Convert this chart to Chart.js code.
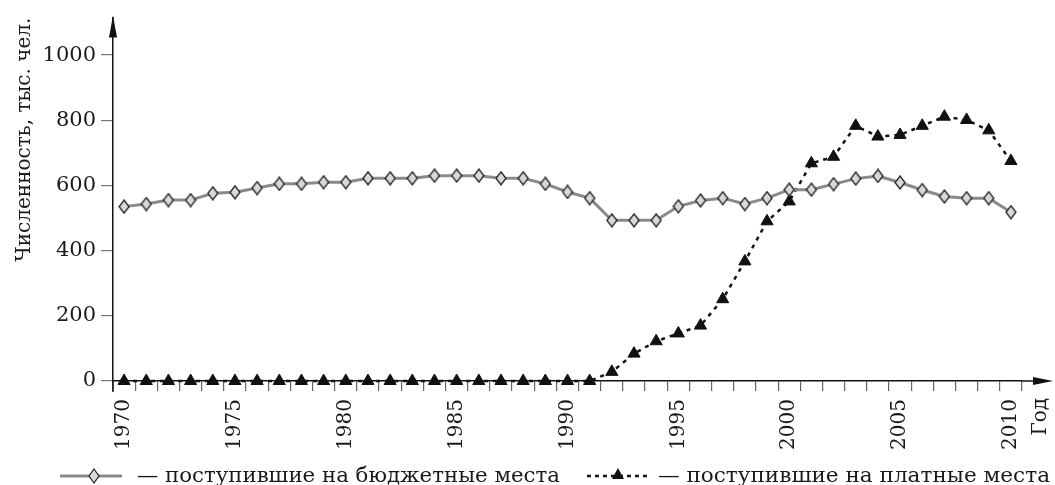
<!DOCTYPE html>
<html>
<head>
<meta charset="utf-8">
<script src="https://cdn.jsdelivr.net/npm/chart.js@4.4.1/dist/chart.umd.min.js"></script>
<style>
  html, body { margin: 0; padding: 0; background: #fff; }
  #wrap { position: relative; width: 1055px; height: 485px; }
  #legend { position: absolute; left: 0; top: 455px; }
  #legend text { font-family: 'DejaVu Serif', serif; font-size: 21px; fill: #1a1a1a; }
</style>
</head>
<body>
<div id="wrap">
  <canvas id="c" width="1055" height="485"></canvas>
  <svg id="legend" width="1055" height="30">
    <line x1="60" y1="21" x2="122" y2="21" stroke="#8a8a8a" stroke-width="3"/>
    <polygon points="94,14 99,21 94,28 89,21" fill="#d9d9d9" stroke="#222" stroke-width="1.2"/>
    <text x="137" y="27" textLength="423" lengthAdjust="spacingAndGlyphs">— поступившие на бюджетные места</text>
    <line x1="587" y1="21" x2="648" y2="21" stroke="#111" stroke-width="2.5" stroke-dasharray="4,4"/>
    <polygon points="618,13 624,24 612,24" fill="#111"/>
    <text x="658" y="27" textLength="392" lengthAdjust="spacingAndGlyphs">— поступившие на платные места</text>
  </svg>
</div>
<script>
const years = ['1970','1971','1972','1973','1974','1975','1976','1977','1978','1979',
               '1980','1981','1982','1983','1984','1985','1986','1987','1988','1989',
               '1990','1991','1992','1993','1994','1995','1996','1997','1998','1999',
               '2000','2001','2002','2003','2004','2005','2006','2007','2008','2009','2010'];
const budgetPlaces = [535,543,555,555,576,579,592,605,605,610,
                      610,622,622,622,630,630,630,622,622,605,
                      580,561,493,493,493,536,554,561,543,561,
                      587,587,604,621,629,609,586,566,561,561,518];
const paidPlaces = [0,0,0,0,0,0,0,0,0,0,
                    0,0,0,0,0,0,0,0,0,0,
                    0,0,28,84,122,146,170,251,367,490,
                    551,668,688,783,750,755,783,811,801,769,675];
const yTickStep = 200;
const yTickMax = 1000;
const yAxisTitle = 'Численность, тыс. чел.';
const xAxisTitle = 'Год';
const budgetLabel = 'поступившие на бюджетные места';
const paidLabel = 'поступившие на платные места';

Chart.defaults.font.family = "'DejaVu Serif', serif";
Chart.defaults.color = '#1a1a1a';

function diamondImage(w, h) {
  const c = document.createElement('canvas');
  c.width = w + 2; c.height = h + 2;
  const g = c.getContext('2d');
  g.beginPath();
  g.moveTo(c.width / 2, 1);
  g.lineTo(c.width - 1, c.height / 2);
  g.lineTo(c.width / 2, c.height - 1);
  g.lineTo(1, c.height / 2);
  g.closePath();
  g.fillStyle = '#d9d9d9';
  g.fill();
  g.lineWidth = 1.3;
  g.strokeStyle = '#222';
  g.stroke();
  return c;
}
const diamond = diamondImage(10, 13);

const axisDecor = {
  id: 'axisDecor',
  beforeDatasetsDraw(chart) {
    const { ctx, chartArea: { left, right, top, bottom } } = chart;
    const W = chart.width;
    ctx.save();
    ctx.strokeStyle = '#111';
    ctx.fillStyle = '#111';
    ctx.lineWidth = 1.5;
    ctx.beginPath();
    ctx.moveTo(left, bottom); ctx.lineTo(left, bottom + 11);
    ctx.moveTo(right, bottom); ctx.lineTo(W - 18, bottom);
    ctx.stroke();
    ctx.beginPath();
    ctx.moveTo(W - 2, bottom); ctx.lineTo(W - 22, bottom - 4); ctx.lineTo(W - 22, bottom + 4);
    ctx.closePath(); ctx.fill();
    ctx.beginPath();
    ctx.moveTo(left, top - 2); ctx.lineTo(left - 4, top + 20); ctx.lineTo(left + 4, top + 20);
    ctx.closePath(); ctx.fill();
    ctx.translate(W - 14, bottom + 17);
    ctx.rotate(-Math.PI / 2);
    ctx.font = "20px 'DejaVu Serif', serif";
    ctx.textAlign = 'right';
    ctx.textBaseline = 'middle';
    ctx.fillStyle = '#1a1a1a';
    ctx.fillText(xAxisTitle, 0, 0);
    ctx.restore();
  }
};

new Chart(document.getElementById('c'), {
  type: 'line',
  data: {
    labels: years,
    datasets: [
      {
        label: budgetLabel,
        data: budgetPlaces,
        borderColor: '#8a8a8a',
        borderWidth: 3,
        pointStyle: diamond,
        pointRadius: 6,
        tension: 0,
        clip: false
      },
      {
        label: paidLabel,
        data: paidPlaces,
        borderColor: '#111',
        borderWidth: 2.5,
        borderDash: [4, 5],
        pointStyle: 'triangle',
        pointRadius: 7,
        pointBackgroundColor: '#111',
        pointBorderColor: '#111',
        pointBorderWidth: 1,
        tension: 0,
        clip: false
      }
    ]
  },
  options: {
    responsive: false,
    animation: false,
    events: [],
    layout: { padding: { top: 13, left: 0, right: 33, bottom: 34 } },
    plugins: { legend: { display: false }, tooltip: { enabled: false } },
    scales: {
      x: {
        offset: true,
        grid: { offset: true, drawOnChartArea: false, drawTicks: true, tickLength: 10, color: '#666', lineWidth: 1.2 },
        border: { display: true, color: '#111', width: 1.5 },
        ticks: {
          autoSkip: false,
          minRotation: 90,
          maxRotation: 90,
          padding: 8,
          font: { size: 20 },
          color: '#1a1a1a',
          callback: function (v, i) { const y = years[i]; return Number(y) % 5 === 0 ? y : ''; }
        },
        afterFit(scale) { scale.height = 70; }
      },
      y: {
        min: 0,
        max: 1115,
        grid: { drawOnChartArea: false, drawTicks: true, tickLength: 12, color: '#777', lineWidth: 1.2 },
        border: { display: true, color: '#111', width: 1.5 },
        ticks: { stepSize: yTickStep, padding: 5, font: { size: 21 }, color: '#1a1a1a',
                 callback: function (v) { return String(v); } },
        afterBuildTicks(scale) { scale.ticks = scale.ticks.filter(t => t.value <= yTickMax); },
        title: { display: true, text: yAxisTitle, align: 'end', font: { size: 20 }, padding: { top: 13, bottom: 0 }, color: '#1a1a1a' },
        afterFit(scale) { scale.width = 113; }
      }
    }
  },
  plugins: [axisDecor]
});
</script>
</body>
</html>
